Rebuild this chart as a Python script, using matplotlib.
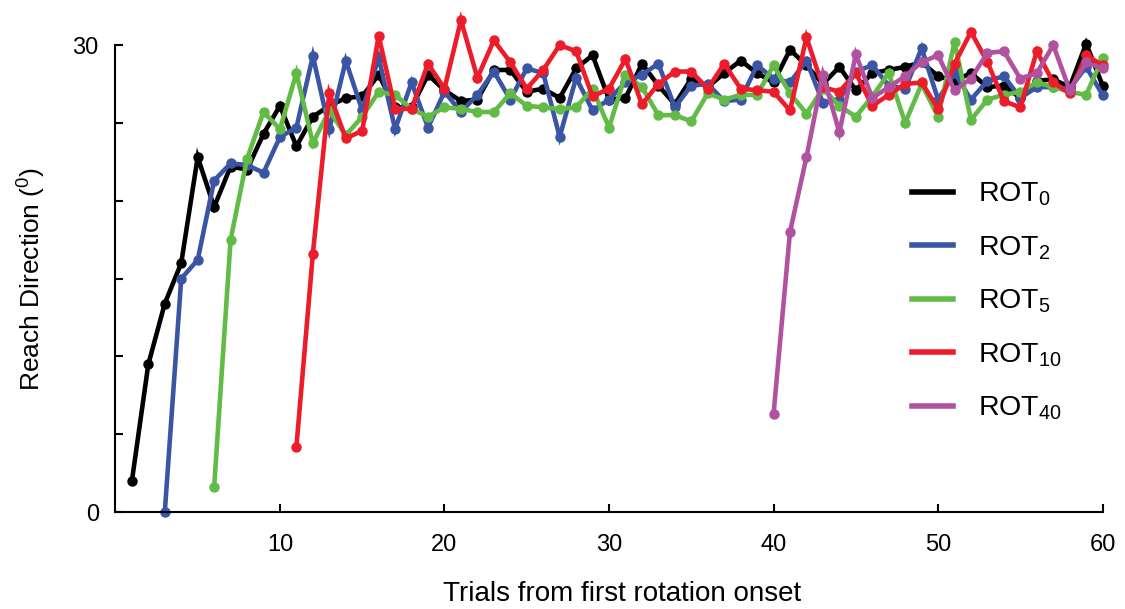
import matplotlib
matplotlib.use("Agg")
import matplotlib.pyplot as plt

plt.rcParams['font.family'] = ['Liberation Sans', 'DejaVu Sans']
plt.rcParams['mathtext.fontset'] = 'custom'
plt.rcParams['mathtext.rm'] = 'Liberation Sans'
plt.rcParams['mathtext.it'] = 'Liberation Sans'

x_rot0 = list(range(1, 61))
y_rot0 = [2.0, 9.5, 13.4, 16.0, 22.8, 19.6, 22.2, 22.0, 24.3, 26.1,
          23.5, 25.4, 26.1, 26.6, 26.7, 28.1, 26.0, 26.0, 28.1, 27.1,
          26.4, 26.5, 28.4, 28.4, 27.0, 27.2, 26.6, 28.5, 29.35, 26.5,
          26.6, 28.8, 27.4, 26.2, 27.85, 27.3, 28.2, 29.0, 28.2, 27.6,
          29.7, 28.7, 27.5, 28.6, 27.1, 28.2, 28.4, 28.6, 28.9, 28.0,
          27.7, 28.2, 27.3, 27.4, 26.6, 27.7, 27.8, 27.3, 30.1, 27.4]

x_rot2 = list(range(3, 61))
y_rot2 = [0.0, 15.0, 16.2, 21.3, 22.4, 22.3, 21.8, 24.1, 24.7, 29.3,
          24.6, 29.0, 25.8, 29.2, 24.6, 27.6, 24.7, 27.0, 25.7, 26.8,
          28.3, 26.5, 28.5, 28.2, 24.1, 27.9, 25.8, 26.5, 27.6, 28.1,
          28.8, 26.0, 27.4, 27.5, 26.4, 26.5, 28.7, 27.85, 27.6, 29.0,
          26.3, 26.5, 28.3, 28.7, 27.4, 27.2, 29.8, 26.5, 28.2, 26.5,
          27.7, 28.0, 26.6, 27.3, 27.3, 27.2, 28.6, 26.8]

x_rot5 = list(range(6, 61))
y_rot5 = [1.6, 17.5, 22.7, 25.7, 24.6, 28.2, 23.7, 25.8, 24.2, 25.4,
          27.0, 26.8, 25.9, 25.4, 26.0, 25.9, 25.7, 25.7, 26.9, 26.1,
          26.0, 25.9, 26.0, 27.2, 24.7, 28.1, 27.3, 25.5, 25.5, 25.1,
          26.9, 26.5, 26.8, 26.8, 28.7, 26.9, 25.6, 27.2, 26.1, 25.4,
          26.7, 28.2, 25.0, 27.5, 25.4, 30.2, 25.2, 26.5, 26.8, 27.0,
          27.6, 27.3, 27.0, 26.8, 29.2]

x_rot10 = list(range(11, 61))
y_rot10 = [4.2, 16.6, 26.9, 24.0, 24.5, 30.6, 25.9, 25.9, 28.8, 27.2,
           31.6, 27.9, 30.3, 28.9, 27.2, 28.4, 30.0, 29.6, 26.7, 27.2,
           29.1, 26.2, 27.5, 28.3, 28.3, 27.2, 28.8, 27.2, 27.1, 27.0,
           25.8, 30.5, 27.3, 27.0, 28.2, 26.1, 26.8, 27.5, 27.6, 25.9,
           28.8, 30.85, 28.9, 26.4, 26.0, 29.6, 27.6, 26.9, 29.35, 28.7]

x_rot40 = list(range(40, 61))
y_rot40 = [6.3, 18.0, 22.8, 28.1, 24.4, 29.4, 26.6, 27.3, 28.0, 28.9,
           29.35, 27.1, 27.85, 29.5, 29.6, 27.85, 28.2, 30.0, 27.1, 28.9,
           28.5]

labels = ['ROT$_{0}$', 'ROT$_{2}$', 'ROT$_{5}$', 'ROT$_{10}$', 'ROT$_{40}$']
colors = ['#000000', '#3a55a4', '#62bb47', '#ec1c2a', '#b152a0']

fig = plt.figure(figsize=(11.25, 6.09), dpi=100)
ax = fig.add_axes([0.1026, 0.159, 0.8775, 0.767])

series = [(x_rot0, y_rot0), (x_rot2, y_rot2), (x_rot5, y_rot5),
          (x_rot10, y_rot10), (x_rot40, y_rot40)]
for (xs, ys), lab, c in zip(series, labels, colors):
    ax.plot(xs, ys, '-o', color=c, lw=3.3, ms=6.5, label=lab, clip_on=False,
            solid_joinstyle='miter')

ax.set_xlim(0, 60)
ax.set_ylim(0, 30)
ax.set_xticks([10, 20, 30, 40, 50, 60])
ax.set_yticks([0, 5, 10, 15, 20, 25, 30])
ax.set_yticklabels(['0', '', '', '', '', '', '30'])
ax.tick_params(direction='in', length=6, width=1.5, labelsize=17)
ax.tick_params(axis='x', pad=16)
ax.tick_params(axis='y', pad=12)
for s in ['top', 'right']:
    ax.spines[s].set_visible(False)
for s in ['left', 'bottom']:
    ax.spines[s].set_linewidth(1.5)

ax.set_xlabel('Trials from first rotation onset', fontsize=20, labelpad=20)
ax.xaxis.set_label_coords(0.513, -0.148)
ax.set_ylabel('Reach Direction ($^{0}$)', fontsize=19, labelpad=18)

leg = ax.legend(loc='upper left', bbox_to_anchor=(0.781, 0.764), frameon=False,
                fontsize=20.5, handlelength=1.45, handletextpad=0.88,
                labelspacing=0.91)
for h in leg.get_lines():
    h.set_marker('')
    h.set_linewidth(4)

fig.savefig('out.png', dpi=100)
